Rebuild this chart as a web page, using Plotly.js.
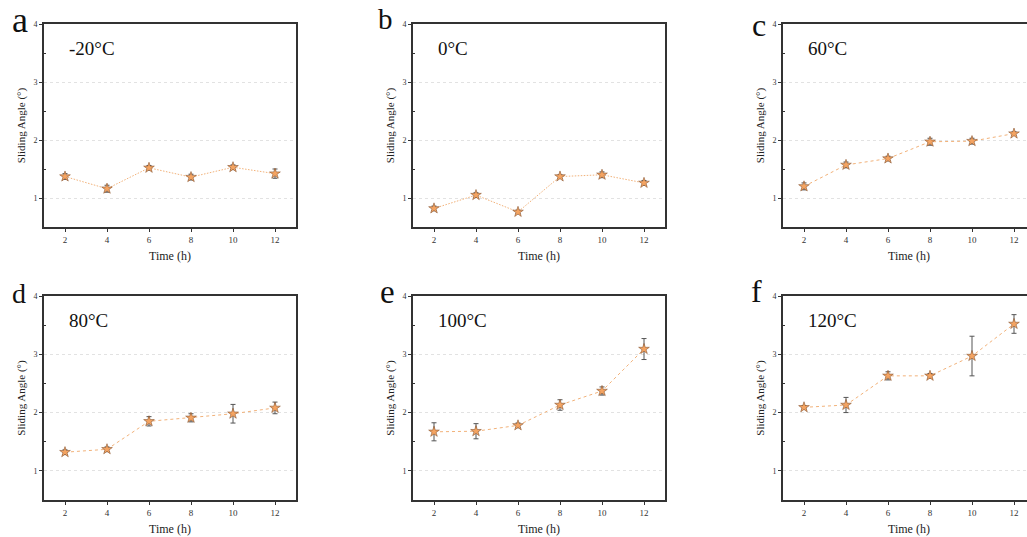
<!DOCTYPE html>
<html>
<head>
<meta charset="utf-8">
<script src="https://cdn.plot.ly/plotly-3.0.1.min.js"></script>
<style>
html,body{margin:0;padding:0;overflow:hidden;background:#fff;}
#chart{width:1040px;height:537px;}
</style>
</head>
<body>
<div id="chart"></div>
<script>
// ---- data ----
const times = [2, 4, 6, 8, 10, 12];
const temps = ['-20°C', '0°C', '60°C', '80°C', '100°C', '120°C'];
const letters = ['a', 'b', 'c', 'd', 'e', 'f'];
const angle_m20 = [1.37, 1.16, 1.52, 1.36, 1.53, 1.42];
const err_m20   = [0.05, 0.06, 0.04, 0.05, 0.04, 0.08];
const angle_0   = [0.82, 1.05, 0.76, 1.37, 1.40, 1.26];
const err_0     = [0.04, 0.04, 0.03, 0.03, 0.05, 0.04];
const angle_60  = [1.20, 1.57, 1.68, 1.97, 1.98, 2.11];
const err_60    = [0.06, 0.05, 0.04, 0.06, 0.05, 0.03];
const angle_80  = [1.32, 1.37, 1.85, 1.91, 1.98, 2.08];
const err_80    = [0.04, 0.04, 0.08, 0.07, 0.16, 0.10];
const angle_100 = [1.67, 1.68, 1.78, 2.13, 2.37, 3.09];
const err_100   = [0.155, 0.13, 0.04, 0.09, 0.07, 0.18];
const angle_120 = [2.09, 2.13, 2.63, 2.63, 2.97, 3.52];
const err_120   = [0.03, 0.13, 0.07, 0.04, 0.34, 0.16];
const xTickVals = [2, 4, 6, 8, 10, 12];
const yTickVals = [1, 2, 3, 4];

const series = [angle_m20, angle_0, angle_60, angle_80, angle_100, angle_120];
const errors = [err_m20, err_0, err_60, err_80, err_100, err_120];

// ---- layout geometry ----
const W = 1040, H = 537;
const colX = [[44, 296], [413, 665], [783, 1035]];
const rowY = [[24, 227], [296, 500]];
const px = x => x / W;
const py = y => 1 - y / H;

const SERIF = 'Liberation Serif, Times New Roman, serif';
const letterSize = [36, 29, 32, 28, 33, 32];
const letterPos = [[20, 20], [385, 19], [759, 25], [19, 293], [387, 292], [756, 291]];

const traces = [];
const layout = {
  width: W, height: H,
  margin: {l: 0, r: 0, t: 0, b: 0},
  paper_bgcolor: '#fff', plot_bgcolor: '#fff',
  showlegend: false,
  font: {family: SERIF, color: '#222'},
  annotations: []
};

for (let i = 0; i < 6; i++) {
  const r = Math.floor(i / 3), c = i % 3;
  const n = i === 0 ? '' : String(i + 1);
  traces.push({
    type: 'scatter', mode: 'lines+markers',
    x: times, y: series[i],
    xaxis: 'x' + n, yaxis: 'y' + n,
    line: {color: '#F2B27A', width: 1, dash: i < 2 ? '1.5px,1.5px' : '3px,3px'},
    marker: {symbol: 'star', size: 8, color: '#F4A462', line: {color: '#8A5530', width: 0.6}},
    error_y: {type: 'data', array: errors[i], visible: true, color: '#555', thickness: 1, width: 2.5}
  });
  const axBase = {
    showline: true, mirror: true, linecolor: '#333', linewidth: 2,
    zeroline: false, ticks: 'outside', ticklen: 3, tickwidth: 1, tickcolor: '#333',
    tickfont: {family: SERIF, size: 9, color: '#333'}
  };
  layout['xaxis' + n] = Object.assign({}, axBase, {
    domain: [px(colX[c][0]), px(colX[c][1])],
    anchor: 'y' + n,
    range: [1, 13], tickvals: xTickVals, showgrid: false,
    title: {text: 'Time (h)', font: {family: SERIF, size: 12, color: '#222'}, standoff: 8}
  });
  layout['yaxis' + n] = Object.assign({}, axBase, {
    domain: [py(rowY[r][1]), py(rowY[r][0])],
    anchor: 'x' + n,
    range: [0.5, 4], tickvals: yTickVals,
    tickfont: {family: SERIF, size: 8, color: '#333'},
    showgrid: true, gridcolor: '#e2e2e2', griddash: 'dot', gridwidth: 1,
    minor: {tickvals: [1.5, 2.5, 3.5], ticks: 'inside', ticklen: 2, tickcolor: '#333', showgrid: false},
    title: {text: 'Sliding Angle (°)', font: {family: SERIF, size: 11, color: '#222'}, standoff: 6}
  });
  layout.annotations.push({
    xref: 'paper', yref: 'paper', x: px(letterPos[i][0]), y: py(letterPos[i][1]),
    xanchor: 'center', yanchor: 'middle', showarrow: false,
    text: letters[i], font: {family: SERIF, size: letterSize[i], color: '#111'}
  });
  layout.annotations.push({
    xref: 'paper', yref: 'paper', x: px(colX[c][0] + 23), y: py(r === 0 ? 49 : 320),
    xanchor: 'left', yanchor: 'middle', showarrow: false,
    text: temps[i], font: {family: SERIF, size: 19, color: '#111'}
  });
}

Plotly.newPlot('chart', traces, layout, {displayModeBar: false, staticPlot: true});
</script>
</body>
</html>
